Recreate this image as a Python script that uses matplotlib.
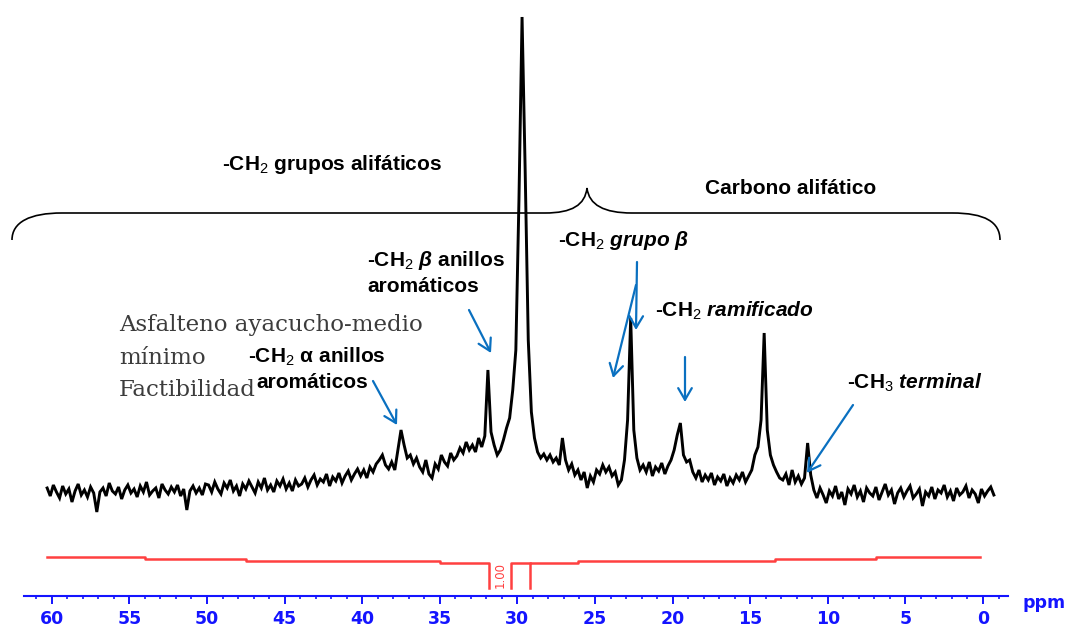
import numpy as np
import matplotlib
matplotlib.use("Agg")
import matplotlib.pyplot as plt
from matplotlib.path import Path
from matplotlib.patches import PathPatch, ArrowStyle

plt.rcParams['mathtext.fontset'] = 'custom'
plt.rcParams['mathtext.rm'] = 'Liberation Sans'
plt.rcParams['mathtext.it'] = 'Liberation Sans:italic'
plt.rcParams['mathtext.bf'] = 'Liberation Sans:bold'
plt.rcParams['mathtext.bfit'] = 'Liberation Sans:italic:bold'

# ------------------------------------------------------------------
# Spectrum data (13C NMR): intensity, 0.2 ppm steps
# each segment: starting ppm, values going downfield -> upfield
# ------------------------------------------------------------------
PPM_STEP = 0.2
seg_60_50 = [12, 4, 15, 8, 2, 14, 6, 11, -2, 9, 16, 5, 10, 3, 13, 7, -12, 8, 12, 4,
             17, 9, 6, 13, 1, 10, 15, 7, 11, 3, 14, 8, 18, 5, 9, 12, 2, 16, 10, 6,
             13, 8, 15, 4, 11, -10, 9, 14, 7, 12, 5, 16]
seg_50_44 = [15, 8, 18, 11, 6, 17, 12, 20, 9, 14, 4, 16, 11, 19, 13, 7, 18, 12, 22, 10,
             15, 8, 19, 14, 21, 11, 17, 9, 20, 14]
seg_44_40 = [16, 22, 13, 20, 25, 15, 21, 18, 26, 14, 23, 19, 27, 17, 24, 29, 20, 26, 31, 24]
seg_40_38 = [30, 22, 33, 28, 36, 40, 45, 35, 31, 38]
seg_38_37 = [30, 50, 70, 55, 42]
seg_37_34 = [45, 36, 42, 33, 28, 40, 26, 22, 36, 31, 45, 38, 34, 47, 40]
seg_34_32 = [44, 52, 47, 58, 50, 55, 48, 62, 53, 64]
seg_32_28 = [130, 68, 55, 45, 50, 60, 72, 82, 110, 150, 300, 483, 330, 160, 88, 62, 48, 42, 46, 40]
seg_28_23 = [45, 38, 42, 35, 62, 40, 30, 36, 25, 30, 20, 28, 12, 24, 18, 30, 26, 35, 28, 33,
             24, 28, 15, 20]
seg_23_22 = [40, 80, 182, 70, 42, 30]
seg_22_20 = [35, 28, 38, 24, 33, 29, 37, 26, 34, 40]
seg_20_19 = [50, 65, 77, 45, 38, 40]
seg_19_15 = [28, 22, 30, 18, 25, 20, 27, 15, 23, 19, 26, 14, 22, 17, 25, 20, 28, 18, 24, 30]
seg_15_13 = [45, 53, 80, 167, 70, 45, 35, 28, 22]
seg_13_11 = [20, 26, 15, 30, 18, 24, 16, 22]
seg_11 = [57, 25]
seg_11_0 = [10, 2, 12, 5, -3, 9, 4, 14, 1, 8, -5, 11, 6, 15, 3, 9, -2, 12, 7, 4,
            13, 0, 8, 16, 5, 10, -4, 7, 12, 3, 9, 14, 2, 6, 11, -6, 8, 4, 13, 1,
            10, 7, 15, 3, 9, -1, 12, 5, 8, 14, 2, 10, 6, -3, 11, 4, 9, 13, 5]

SEGMENTS = [(60.3, seg_60_50), (49.9, seg_50_44), (43.9, seg_44_40), (39.9, seg_40_38),
            (37.9, seg_38_37), (36.9, seg_37_34), (33.9, seg_34_32), (31.9, seg_32_28),
            (27.9, seg_28_23), (23.1, seg_23_22), (21.9, seg_22_20), (19.9, seg_20_19),
            (18.7, seg_19_15), (14.7, seg_15_13), (12.9, seg_13_11), (11.3, seg_11),
            (10.9, seg_11_0)]

# Integration trace (ppm breakpoints and levels)
INTEG_LEFT_PPM = [60.3, 54.0, 47.5, 35.0, 31.8]
INTEG_LEFT_LEVEL = [-57, -59, -61, -63]
INTEG_RIGHT_PPM = [29.2, 26.1, 13.4, 6.9, 0.2]
INTEG_RIGHT_LEVEL = [-63, -61, -59, -57]
INTEG_REGION = [31.8, 30.4, 29.2]
INTEG_DROP = -88
INTEG_LABEL = "1.00"

MAJOR_TICKS = [60, 55, 50, 45, 40, 35, 30, 25, 20, 15, 10, 5, 0]
MINOR_TICKS = list(range(-1, 62))

BLUE_AX = '#1414ff'
ARROW = '#0a70c0'
RED = '#ff4040'

# ------------------------------------------------------------------
ppm, inten = [], []
for start, vals in SEGMENTS:
    for i, v in enumerate(vals):
        ppm.append(round(start - PPM_STEP * i, 1))
        inten.append(v)

fig = plt.figure(figsize=(10.68, 6.29), dpi=100)
fig.patch.set_facecolor('white')

PX_PER_PPM = 15.52
X0 = 983.0
ax = fig.add_axes([0, 0, 1, 1])
ax.set_xlim(X0 / PX_PER_PPM, (X0 - 1068) / PX_PER_PPM)
ax.set_ylim(-129, 500)
ax.patch.set_alpha(0)

ax.plot(ppm, inten, color='black', lw=2.1, solid_joinstyle='miter')

# integration curve
ix, iy = [], []
for k, lev in enumerate(INTEG_LEFT_LEVEL):
    ix += [INTEG_LEFT_PPM[k], INTEG_LEFT_PPM[k + 1]]
    iy += [lev, lev]
ix.append(INTEG_LEFT_PPM[-1]); iy.append(INTEG_DROP)
ax.plot(ix, iy, color=RED, lw=1.8)
ax.plot([INTEG_REGION[1], INTEG_REGION[1], INTEG_REGION[2]],
        [INTEG_DROP, INTEG_RIGHT_LEVEL[0], INTEG_RIGHT_LEVEL[0]], color=RED, lw=1.8)
rx, ry = [INTEG_RIGHT_PPM[0]], [INTEG_DROP]
for k, lev in enumerate(INTEG_RIGHT_LEVEL):
    rx += [INTEG_RIGHT_PPM[k], INTEG_RIGHT_PPM[k + 1]]
    ry += [lev, lev]
ax.plot(rx, ry, color=RED, lw=1.8)
ax.text((INTEG_REGION[0] + INTEG_REGION[1]) / 2, (INTEG_DROP + INTEG_RIGHT_LEVEL[0]) / 2,
        INTEG_LABEL, rotation=90, color=RED, fontsize=8.5, ha='center', va='center',
        family='DejaVu Sans')

for s in ['top', 'left', 'right']:
    ax.spines[s].set_visible(False)
ax.spines['bottom'].set_position(('data', -96))
ax.spines['bottom'].set_color(BLUE_AX)
ax.spines['bottom'].set_linewidth(1.5)
ax.spines['bottom'].set_bounds(-1.6, 61.8)
ax.set_yticks([])
ax.set_xticks(MAJOR_TICKS)
ax.set_xticks(MINOR_TICKS, minor=True)
ax.set_xticklabels([str(t) for t in MAJOR_TICKS])
ax.tick_params(axis='x', which='major', direction='out', length=6, width=1.4,
               color=BLUE_AX, labelcolor=BLUE_AX, pad=4, labelsize=12.5)
ax.tick_params(axis='x', which='minor', direction='out', length=2.5, width=1.2, color=BLUE_AX)
for lab in ax.get_xticklabels():
    lab.set_fontweight('bold')
    lab.set_family('DejaVu Sans')

# ------------------------------------------------------------------
# annotation overlay in pixel coordinates
ov = fig.add_axes([0, 0, 1, 1])
ov.set_xlim(0, 1068)
ov.set_ylim(629, 0)
ov.axis('off')
ov.patch.set_alpha(0)

ov.text(1022, 603, 'ppm', color=BLUE_AX, fontsize=12.5, fontweight='bold',
        family='DejaVu Sans', ha='left', va='center')

# brace
verts = [(12, 240), (12, 222), (30, 213), (62, 213),
         (545, 213),
         (572, 213), (585, 205), (587, 188),
         (589, 205), (604, 213), (632, 213),
         (952, 213),
         (985, 213), (1000, 222), (1000, 240)]
codes = [Path.MOVETO, Path.CURVE4, Path.CURVE4, Path.CURVE4,
         Path.LINETO,
         Path.CURVE4, Path.CURVE4, Path.CURVE4,
         Path.CURVE4, Path.CURVE4, Path.CURVE4,
         Path.LINETO,
         Path.CURVE4, Path.CURVE4, Path.CURVE4]
ov.add_patch(PathPatch(Path(verts, codes), fill=False, lw=1.2, edgecolor='black'))

lab_kw = dict(fontsize=15, fontweight='bold', family='Liberation Sans', color='black',
              ha='left', va='center')
ov.text(222, 165, r'-CH$_2$ grupos alifáticos', **lab_kw)
ov.text(705, 189, 'Carbono alifático', **lab_kw)
ov.text(558, 240, r'-CH$_2$ $\mathbfit{grupo\ \beta}$', **lab_kw)
ov.text(367, 261, r'-CH$_2$ $\mathbfit{\beta}$ anillos', **lab_kw)
ov.text(367, 287, 'aromáticos', **lab_kw)
ov.text(655, 311, r'-CH$_2$ $\mathbfit{ramificado}$', **lab_kw)
ov.text(248, 357, r'-CH$_2$ α anillos', **lab_kw)
ov.text(256, 383, 'aromáticos', **lab_kw)
ov.text(847, 383, r'-CH$_3$ $\mathbfit{terminal}$', **lab_kw)

ser_kw = dict(fontsize=16.5, family='DejaVu Serif', color='#3c3c3c', ha='left', va='center')
ov.text(119, 325, 'Asfalteno ayacucho-medio', **ser_kw)
ov.text(119, 358, 'mínimo', **ser_kw)
ov.text(119, 390, 'Factibilidad', **ser_kw)

astyle = ArrowStyle('->', head_length=0.6, head_width=0.35)
arrows = [((469, 310), (491, 353)),
          ((373, 381), (397, 425)),
          ((637, 262), (636, 330)),
          ((636, 285), (613, 378)),
          ((685, 357), (685, 402)),
          ((853, 405), (807, 473))]
for start, tip in arrows:
    ov.annotate('', xy=tip, xytext=start,
                arrowprops=dict(arrowstyle=astyle, color=ARROW, lw=1.6,
                                shrinkA=0, shrinkB=0, mutation_scale=14))

fig.savefig('out.png', dpi=100, facecolor='white')
